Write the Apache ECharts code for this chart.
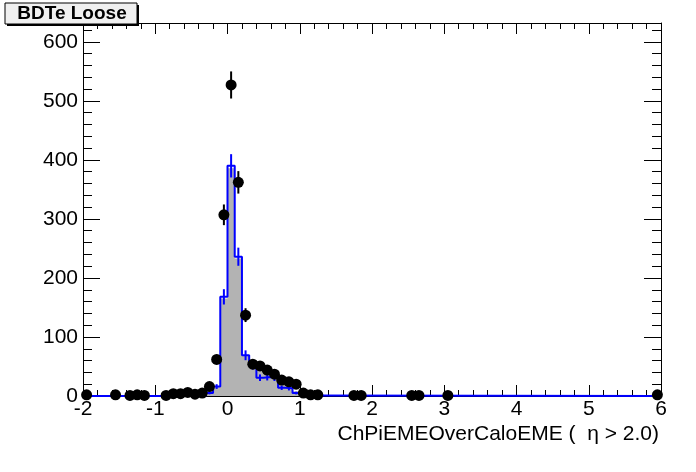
<!DOCTYPE html>
<html><head><meta charset="utf-8">
<script src="https://cdn.jsdelivr.net/npm/echarts@6/dist/echarts.min.js"></script>
<style>html,body{margin:0;padding:0;background:#fff}#c{width:696px;height:472px}</style>
</head><body><div id="c"></div>
<script>
// ---- data ----
const xMin = -2, xMax = 6, yMin = 0, yMax = 632;
const binWidth = 0.1;
const mcStart = -0.3;                       // lower edge of first non-empty MC bin
const mcValues   = [5, 16, 168, 390, 236, 69, 52, 31, 32, 31, 14, 13, 5, 1];   // blue histogram
const fillValues = [5, 16, 165, 386, 233, 69, 55, 45, 40, 33, 24, 16, 8, 1];   // gray filled histogram
const dataX = [-1.95, -1.55, -1.35, -1.25, -1.15, -0.85, -0.75, -0.65, -0.55, -0.45, -0.35, -0.25, -0.15, -0.05,
               0.05, 0.15, 0.25, 0.35, 0.45, 0.55, 0.65, 0.75, 0.85, 0.95, 1.05, 1.15, 1.25, 1.75, 1.85, 2.55, 2.65, 3.05, 5.95];
const dataY = [2, 2, 1, 2, 1, 1, 4, 4, 6, 3, 5, 16, 62, 307,
               527, 362, 137, 54, 51, 44, 37, 27, 24, 20, 5, 2, 2, 1, 1, 1, 1, 1, 2];
const xTickLabels = ['-2', '-1', '0', '1', '2', '3', '4', '5', '6'];
const yTickLabels = ['0', '100', '200', '300', '400', '500', '600'];
const titleText = 'BDTe Loose';
const xTitle = 'ChPiEMEOverCaloEME (  \u03b7 > 2.0)';

// ---- build series data ----
const r2 = v => Math.round(v * 1000) / 1000;
function stepData(vals) {
  const d = [[xMin, 0]];
  vals.forEach((v, i) => d.push([r2(mcStart + i * binWidth), v]));
  d.push([r2(mcStart + vals.length * binWidth), 0]);
  d.push([xMax, 0]);
  return d;
}
const mcErr = mcValues.map((v, i) => [r2(mcStart + (i + 0.5) * binWidth), v, Math.sqrt(v)]);
const dataErr = dataX.map((x, i) => [x, dataY[i], Math.sqrt(dataY[i])]);
const points = dataX.map((x, i) => [x, dataY[i]]);

function errRender(color) {
  return function (params, api) {
    const x = api.value(0), y = api.value(1), e = api.value(2);
    const p1 = api.coord([x, y - e]), p2 = api.coord([x, y + e]);
    return { type: 'line', shape: { x1: p1[0], y1: p1[1], x2: p2[0], y2: p2[1] },
             style: { stroke: color, lineWidth: 2 } };
  };
}

const font = 'Liberation Sans, Arial, Helvetica, sans-serif';
const chart = echarts.init(document.getElementById('c'), null, { renderer: 'canvas' });
const lineStyle = { color: '#000', width: 1 };
const xLabelVals = xTickLabels.map(Number);
const yLabelVals = yTickLabels.map(Number);

function xAx(pos, labels) {
  return { type: 'value', min: xMin, max: xMax, interval: 1, position: pos,
    axisLine: { show: true, onZero: false, lineStyle },
    axisTick: { show: true, inside: true, length: 11, lineStyle },
    minorTick: { show: true, splitNumber: 5, length: 6, lineStyle },
    splitLine: { show: false },
    axisLabel: labels ? { show: true, margin: 3, fontSize: 21, color: '#000', fontFamily: font,
      formatter: v => xTickLabels[xLabelVals.indexOf(Math.round(v))] || '' } : { show: false } };
}
function yAx(pos, labels, minor) {
  return { type: 'value', min: yMin, max: yMax, interval: minor ? 20 : 100, position: pos,
    axisLine: { show: !minor, onZero: false, lineStyle },
    axisTick: { show: true, inside: true, length: minor ? 9 : 17, lineStyle },
    splitLine: { show: false },
    axisLabel: labels ? { show: true, margin: 5, fontSize: 21, color: '#000', fontFamily: font,
      showMaxLabel: false,
      formatter: v => { const i = yLabelVals.indexOf(v); return i >= 0 ? yTickLabels[i] : ''; } } : { show: false } };
}

chart.setOption({
  animation: false,
  backgroundColor: '#fff',
  grid: { left: 83, right: 35, top: 23, bottom: 76, containLabel: false, outerBoundsMode: 'none' },
  xAxis: [xAx('bottom', true), xAx('top', false)],
  yAxis: [yAx('left', true, false), yAx('left', false, true), yAx('right', false, false), yAx('right', false, true)],
  series: [
    { type: 'line', step: 'end', data: stepData(fillValues), symbol: 'none', z: 2,
      lineStyle: { width: 0, color: '#b3b3b3' }, areaStyle: { color: '#b3b3b3', opacity: 1 } },
    { type: 'line', step: 'end', data: stepData(mcValues), symbol: 'none', z: 3,
      lineStyle: { width: 2, color: '#0000ff' } },
    { type: 'custom', data: mcErr, renderItem: errRender('#0000ff'), z: 3 },
    { type: 'custom', data: dataErr, renderItem: errRender('#000'), z: 4, clip: false },
    { type: 'scatter', data: points, symbol: 'circle', symbolSize: 11, clip: false, z: 5,
      itemStyle: { color: '#000', opacity: 1 } }
  ],
  graphic: [
    { type: 'rect', shape: { x: 7, y: 5, width: 132, height: 21 }, style: { fill: '#000' }, z: 10 },
    { type: 'rect', shape: { x: 5, y: 3, width: 132, height: 21 }, style: { fill: '#f0f0f0', stroke: '#000', lineWidth: 1 }, z: 11 },
    { type: 'text', x: 72, y: 14, z: 12,
      style: { text: titleText, font: 'bold 19px ' + font, fill: '#000', align: 'center', verticalAlign: 'middle' } },
    { type: 'text', x: 659, y: 434, z: 12,
      style: { text: xTitle, font: '21px ' + font, fill: '#000', align: 'right', verticalAlign: 'middle' } }
  ]
});
</script></body></html>
